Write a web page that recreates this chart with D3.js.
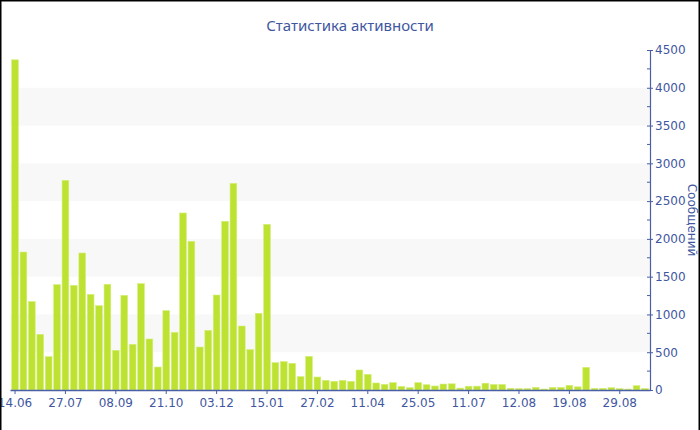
<!DOCTYPE html>
<html>
<head>
<meta charset="utf-8">
<script src="https://cdn.jsdelivr.net/npm/d3@7"></script>
<style>
  html, body { margin: 0; padding: 0; background: #fff; }
  svg { display: block; }
  text { font-family: "DejaVu Sans", sans-serif; }
</style>
</head>
<body>
<svg id="chart" width="700" height="430"></svg>
<script>
const title = "Статистика активности";
const yTitle = "Сообщений";
const values = [
  4370, 1826, 1170, 737, 441, 1394, 2775, 1385, 1813, 1266,
  1116, 1399, 525, 1253, 605, 1407, 675, 304, 1050, 763,
  2343, 1968, 569, 790, 1257, 2233, 2735, 847, 534, 1015,
  2193, 362, 375, 353, 177, 445, 172, 128, 115, 128,
  115, 265, 207, 93, 75, 97, 49, 31, 97, 70,
  53, 79, 82, 25, 50, 51, 90, 73, 73, 23,
  18, 18, 35, 13, 35, 35, 62, 42, 300, 22,
  22, 31, 18, 13, 57, 20
];
const tickLabels = ["14.06", "27.07", "08.09", "21.10", "03.12", "15.01", "27.02",
                    "11.04", "25.05", "11.07", "12.08", "19.08", "29.08"];
const labelEvery = 6;
const yTicks = [0, 500, 1000, 1500, 2000, 2500, 3000, 3500, 4000, 4500];
const yMinorTicks = [250, 750, 1250, 1750, 2250, 2750, 3250, 3750, 4250];
const bands = [[500, 1000], [1500, 2000], [2500, 3000], [3500, 4000]];

const axisColor = "#4a5fa6";
const textColor = "#3f57a0";
const barColor = "#bde232";

const svg = d3.select("#chart");
const margin = { left: 10, right: 50, top: 50, bottom: 40 };
const W = 700, H = 430;

const x = d3.scaleBand()
  .domain(d3.range(values.length))
  .range([margin.left, W - margin.right])
  .paddingInner(0.2)
  .paddingOuter(0.2);

const y = d3.scaleLinear()
  .domain([0, 4500])
  .range([H - margin.bottom, margin.top]);

// alternating bands
svg.append("g").selectAll("rect").data(bands).join("rect")
  .attr("x", margin.left)
  .attr("width", W - margin.right - margin.left)
  .attr("y", d => y(d[1]))
  .attr("height", d => y(d[0]) - y(d[1]))
  .attr("fill", "#f8f8f8");

// bars
svg.append("g").selectAll("rect").data(values).join("rect")
  .attr("x", (d, i) => x(i))
  .attr("width", x.bandwidth())
  .attr("y", d => y(d))
  .attr("height", d => y(0) - y(d))
  .attr("fill", barColor)
  .attr("stroke", "#d4ee7a")
  .attr("stroke-width", 0.6);

// x axis
const xAxis = d3.axisBottom(x)
  .tickValues(d3.range(0, values.length, labelEvery))
  .tickFormat((d) => tickLabels[d / labelEvery])
  .tickSize(4)
  .tickSizeOuter(0);
const gx = svg.append("g")
  .attr("transform", `translate(0,${y(0)})`)
  .call(xAxis);
gx.attr("font-family", null);
gx.select(".domain").attr("stroke", axisColor).attr("stroke-width", 1.5);
gx.selectAll(".tick line").attr("stroke", axisColor);
gx.selectAll(".tick text")
  .attr("fill", textColor)
  .attr("font-size", 12)
  .attr("dy", "0.8em");

// y axis (right)
const yAxis = d3.axisRight(y)
  .tickValues(yTicks)
  .tickFormat(d3.format("d"))
  .tickSize(0)
  .tickPadding(5);
const gy = svg.append("g")
  .attr("transform", `translate(${W - margin.right},0)`)
  .call(yAxis);
gy.attr("font-family", null);
gy.select(".domain").attr("stroke", axisColor).attr("stroke-width", 1.2);
gy.selectAll(".tick text").attr("fill", textColor).attr("font-size", 12);
gy.selectAll(".tick").append("line")
  .attr("x1", -3).attr("x2", 3)
  .attr("stroke", axisColor);
gy.append("g").selectAll("line").data(yMinorTicks).join("line")
  .attr("x1", -3).attr("x2", 0)
  .attr("y1", d => y(d)).attr("y2", d => y(d))
  .attr("stroke", axisColor);

// y axis title (reads top to bottom, at the far right)
svg.append("text")
  .attr("transform", `translate(${W - 12},${y(2250)}) rotate(90)`)
  .attr("text-anchor", "middle")
  .attr("font-size", 12)
  .attr("fill", textColor)
  .text(yTitle);

// title
svg.append("text")
  .attr("x", W / 2)
  .attr("y", 31)
  .attr("text-anchor", "middle")
  .attr("font-size", 15)
  .attr("font-family", "'Noto Sans', sans-serif")
  .style("font-family", "'Noto Sans', sans-serif")
  .attr("fill", textColor)
  .text(title);

// frame
svg.append("path")
  .attr("d", `M0.5,${H} V0.5 H${W - 0.5} V${H}`)
  .attr("fill", "none")
  .attr("stroke", "#000")
  .attr("stroke-width", 2);
</script>
</body>
</html>
